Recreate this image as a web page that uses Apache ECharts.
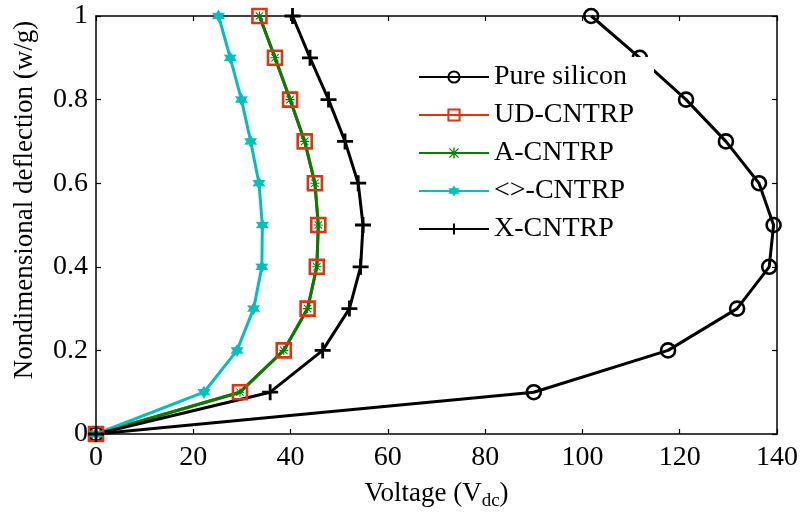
<!DOCTYPE html>
<html>
<head>
<meta charset="utf-8">
<script src="https://cdn.jsdelivr.net/npm/echarts@6/dist/echarts.min.js"></script>
<style>
  html, body { margin: 0; padding: 0; background: #fff; }
  #chart { width: 804px; height: 516px; }
</style>
</head>
<body>
<div id="chart"></div>
<script>
// deflection levels shared by every curve
const deflection = [0, 0.1, 0.2, 0.3, 0.4, 0.5, 0.6, 0.7, 0.8, 0.9, 1.0]

// voltage for each level
const pureSilicon = [0, 90.0, 117.6, 131.8, 138.4, 139.3, 136.3, 129.5, 121.3, 111.8, 101.8]
const udCntrp = [0, 29.6, 38.6, 43.5, 45.4, 45.7, 45.0, 42.9, 39.9, 36.8, 33.6]
const aCntrp = [0, 29.6, 38.6, 43.5, 45.4, 45.7, 45.0, 42.9, 39.9, 36.8, 33.6]
const diaCntrp = [0, 22.2, 29.0, 32.4, 34.1, 34.2, 33.5, 31.8, 29.9, 27.6, 25.2]
const xCntrp = [0, 35.8, 46.6, 52.1, 54.4, 54.9, 53.9, 51.2, 47.8, 44.0, 40.4]

const seriesNames = ['Pure silicon', 'UD-CNTRP', 'A-CNTRP', '<>-CNTRP', 'X-CNTRP']
const xTicks = { min: 0, max: 140, interval: 20 }
const yTicks = { min: 0, max: 1, interval: 0.2 }

const FONT = '"Liberation Serif", "Times New Roman", serif'

const asterisk = 'path://M4.4,0H5.6V10H4.4Z M0,4.4H10V5.6H0Z M1.3,0.5L9.5,8.7L8.7,9.5L0.5,1.3Z M8.7,0.5L9.5,1.3L1.3,9.5L0.5,8.7Z'
const hexagram = 'path://M5,0L6.4,2.6L9.3,2.5L7.8,5L9.3,7.5L6.4,7.4L5,10L3.6,7.4L0.7,7.5L2.2,5L0.7,2.5L3.6,2.6Z'
const plus = 'path://M6.6,0H9.4V16H6.6Z M0,6.6H16V9.4H0Z'

function pairs(xs) {
    return xs.map((x, i) => [x, deflection[i]])
}

function makeSeries(name, xs, color, symbol, size, hollow) {
    return {
        name: name,
        type: 'line',
        data: pairs(xs),
        symbol: symbol,
        symbolSize: size,
        showAllSymbol: true,
        lineStyle: { color: color, width: 3 },
        itemStyle: hollow
            ? { color: 'transparent', borderColor: color, borderWidth: 2.6 }
            : { color: color, borderWidth: 0 },
        emphasis: { disabled: true },
        animation: false
    }
}

const axisCommon = {
    type: 'value',
    axisLine: { show: true, onZero: false, lineStyle: { color: '#000', width: 1.5 } },
    axisTick: { show: true, inside: true, length: 5, lineStyle: { color: '#000', width: 1.2 } },
    splitLine: { show: false }
}

const myChart = echarts.init(document.getElementById('chart'), null, { renderer: 'canvas' })

myChart.setOption({
    backgroundColor: '#fff',
    animation: false,
    grid: { left: 96, right: 27, top: 16, bottom: 81 },
    legend: {
        left: 410,
        top: 57,
        orient: 'vertical',
        data: seriesNames,
        backgroundColor: '#fff',
        padding: [6, 20, 6, 8],
        itemWidth: 70,
        itemHeight: 14,
        itemGap: 10,
        textStyle: { fontFamily: FONT, fontSize: 28, color: '#000', lineHeight: 28 }
    },
    xAxis: [
        Object.assign({}, axisCommon, xTicks, {
            position: 'bottom',
            name: 'Voltage (V{sub|dc})',
            nameLocation: 'middle',
            nameGap: 42,
            nameTextStyle: {
                fontFamily: FONT, fontSize: 27, color: '#000',
                rich: { sub: { fontFamily: FONT, fontSize: 19, color: '#000', padding: [16, 0, 0, 0] } }
            },
            axisLabel: { fontFamily: FONT, fontSize: 28, color: '#000', margin: 10 }
        }),
        Object.assign({}, axisCommon, xTicks, {
            position: 'top',
            axisLabel: { show: false }
        })
    ],
    yAxis: [
        Object.assign({}, axisCommon, yTicks, {
            position: 'left',
            name: 'Nondimensional deflection (w/g)',
            nameLocation: 'middle',
            nameGap: 58,
            nameTextStyle: { fontFamily: FONT, fontSize: 27, color: '#000', padding: [0, 0, 0, 50] },
            axisLabel: { fontFamily: FONT, fontSize: 28, color: '#000', margin: 8 }
        }),
        Object.assign({}, axisCommon, yTicks, {
            position: 'right',
            axisLabel: { show: false }
        })
    ],
    series: [
        makeSeries(seriesNames[0], pureSilicon, '#000', 'circle', 14, true),
        makeSeries(seriesNames[1], udCntrp, '#de3412', 'rect', 14, true),
        makeSeries(seriesNames[2], aCntrp, '#008000', asterisk, 9, false),
        makeSeries(seriesNames[3], diaCntrp, '#00bfbf', hexagram, 13, false),
        makeSeries(seriesNames[4], xCntrp, '#000', plus, 16, false)
    ]
})
</script>
</body>
</html>
